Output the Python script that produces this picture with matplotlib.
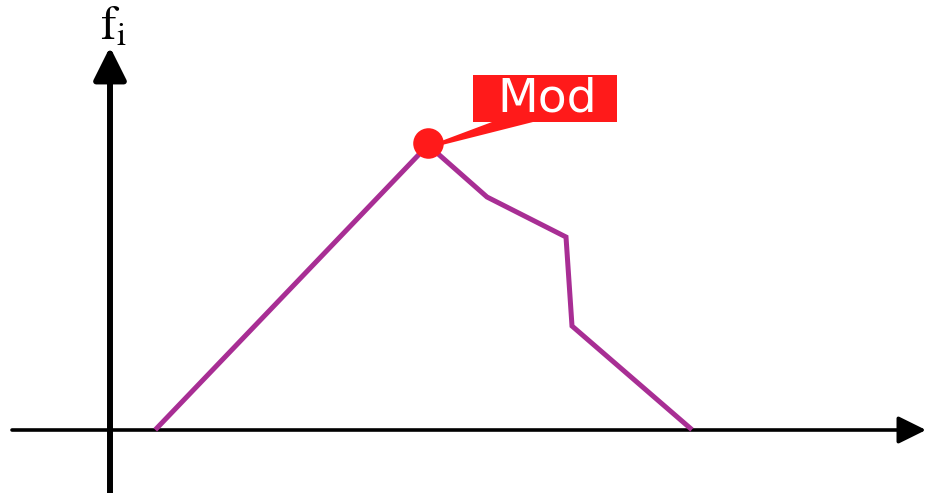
import matplotlib.pyplot as plt
from matplotlib.patches import Rectangle, Polygon

plt.rcParams['mathtext.fontset'] = 'stix'

# frequency polygon (x position, f_i)
x_vals = [4.7, 31.8, 37.7, 45.6, 46.2, 58.0]
f_vals = [0.2, 28.5, 23.3, 19.3, 10.4, 0.2]
mode_idx = 1
mode_label = 'Mod'
y_label = r'$\mathrm{f}_{\mathrm{i}}$'

fig = plt.figure(figsize=(9.3, 4.93), dpi=100)
ax = fig.add_axes([0, 0, 1, 1])
ax.set_xlim(-11, 82)
ax.set_ylim(-6.3, 43)
ax.axis('off')

# axes with arrows
ax.annotate('', xy=(81.6, 0), xytext=(-9.8, 0),
            arrowprops=dict(arrowstyle='-|>,head_length=0.85,head_width=0.42',
                            mutation_scale=20, lw=2.6, color='black',
                            shrinkA=0, shrinkB=0))
ax.annotate('', xy=(0, 38.3), xytext=(0, -7),
            arrowprops=dict(arrowstyle='-|>,head_length=1.0,head_width=0.5',
                            mutation_scale=20, lw=4.3, color='black',
                            shrinkA=0, shrinkB=0))
ax.text(-1.0, 39.0, y_label, fontsize=34, color='black', ha='left', va='baseline')

# polygon
ax.plot(x_vals, f_vals, color='#a82e94', lw=3.6, solid_joinstyle='miter', zorder=3)

# mode marker + callout
mx, my = x_vals[mode_idx], f_vals[mode_idx]
ax.add_patch(Polygon([(mx + 1.2, my + 0.35), (38.2, 30.8), (42.3, 30.8), (mx + 1.4, my + 0.0)],
                     closed=True, color='#ff1a1a', lw=0, zorder=4))
ax.plot([mx], [my + 0.2], 'o', color='#ff1a1a', markersize=22, mec='none', zorder=5)
ax.add_patch(Rectangle((36.3, 30.8), 14.4, 4.7, color='#ff1a1a', lw=0, zorder=4))
ax.text(43.7, 33.1, mode_label, fontsize=34, color='white', ha='center', va='center',
        family='DejaVu Sans', zorder=6)

fig.savefig('out.png', dpi=100)
